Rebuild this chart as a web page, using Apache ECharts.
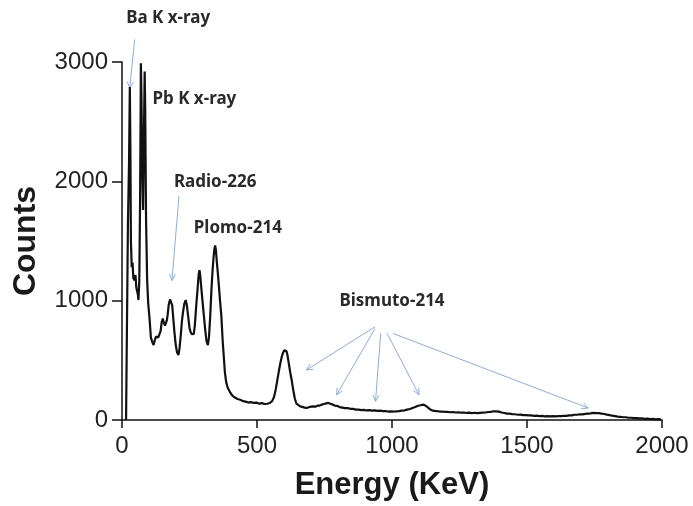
<!DOCTYPE html>
<html>
<head>
<meta charset="utf-8">
<script src="https://cdn.jsdelivr.net/npm/echarts@6/dist/echarts.min.js"></script>
<style>
    html, body { margin: 0; padding: 0; background: #fff; }
    #main { width: 693px; height: 506px; }
</style>
</head>
<body>
<div id="main"></div>
<script>
// energy (keV) of each channel
var energy = [15, 20, 22, 26, 29, 31, 33, 36, 39, 42, 46, 50, 53, 56, 59, 61, 64, 67, 70, 72,
    75, 78, 81, 84, 86, 89, 93, 97, 102, 107, 112, 117, 121, 126, 130, 134, 139, 143, 147, 151,
    155, 159, 163, 166, 169, 173, 178, 182, 186, 190, 194, 199, 204, 209, 213, 218, 222, 226, 231, 236,
    240, 245, 250, 254, 258, 262, 266, 270, 275, 280, 284, 287, 290, 294, 298, 303, 308, 313, 318, 322,
    327, 331, 335, 339, 342, 345, 348, 351, 355, 359, 363, 368, 373, 377, 381, 386, 392, 399, 408, 418,
    428, 438, 448, 458, 468, 478, 488, 498, 508, 518, 528, 538, 547, 556, 563, 569, 575, 581, 587, 592,
    597, 601, 605, 609, 613, 618, 623, 628, 634, 640, 646, 652, 660, 668, 676, 684, 692, 700, 708, 716,
    724, 732, 740, 748, 756, 764, 772, 780, 788, 796, 806, 816, 826, 836, 846, 856, 866, 876, 886, 896,
    906, 916, 926, 936, 946, 956, 966, 976, 986, 996, 1006, 1016, 1026, 1036, 1046, 1056, 1066, 1076, 1086, 1096,
    1106, 1114, 1122, 1130, 1138, 1146, 1156, 1166, 1176, 1186, 1196, 1206, 1216, 1226, 1236, 1246, 1256, 1266, 1276, 1286,
    1296, 1306, 1316, 1326, 1336, 1346, 1356, 1366, 1376, 1386, 1396, 1406, 1416, 1426, 1436, 1446, 1456, 1466, 1476, 1486,
    1496, 1506, 1516, 1526, 1536, 1546, 1556, 1566, 1576, 1586, 1596, 1606, 1616, 1626, 1636, 1646, 1656, 1666, 1676, 1686,
    1696, 1706, 1716, 1726, 1736, 1746, 1756, 1766, 1776, 1786, 1796, 1806, 1816, 1826, 1836, 1846, 1856, 1866, 1876, 1886,
    1896, 1906, 1916, 1926, 1936, 1946, 1956, 1966, 1976, 1986, 1996];

// counts for each channel
var counts = [0, 0, 1650, 2150, 2790, 2300, 1500, 1280, 1320, 1190, 1170, 1215, 1110, 1100, 1050, 1005, 1160, 1850, 2990, 2720,
    2100, 1760, 2350, 2920, 2600, 1700, 1180, 980, 850, 690, 655, 628, 665, 700, 712, 690, 683, 745, 820, 850,
    815, 790, 780, 835, 880, 965, 1010, 1020, 960, 850, 740, 630, 565, 545, 600, 720, 830, 905, 975, 1005,
    965, 870, 770, 738, 720, 712, 722, 800, 960, 1100, 1220, 1255, 1205, 1100, 1000, 880, 760, 662, 628, 690,
    880, 1080, 1240, 1360, 1430, 1462, 1420, 1330, 1230, 1120, 1000, 870, 660, 530, 400, 315, 268, 238, 206, 188,
    176, 170, 158, 154, 146, 150, 143, 146, 137, 141, 134, 136, 142, 158, 192, 252, 330, 410, 482, 532,
    566, 584, 592, 578, 542, 470, 400, 340, 255, 180, 138, 124, 114, 110, 104, 101, 107, 112, 114, 112,
    120, 121, 129, 134, 139, 143, 136, 129, 121, 119, 108, 104, 99, 99, 94, 93, 87, 87, 83, 85,
    80, 83, 78, 81, 76, 79, 74, 74, 71, 72, 71, 73, 74, 79, 81, 87, 92, 101, 109, 119,
    124, 129, 123, 111, 94, 83, 76, 75, 71, 71, 68, 68, 65, 67, 63, 64, 61, 63, 59, 62,
    58, 61, 57, 60, 62, 63, 67, 68, 73, 72, 70, 63, 59, 53, 53, 48, 48, 44, 45, 41,
    41, 38, 39, 35, 36, 33, 34, 31, 32, 30, 32, 30, 33, 32, 35, 35, 39, 39, 44, 44,
    48, 47, 51, 54, 56, 59, 58, 57, 53, 50, 45, 41, 36, 33, 28, 27, 23, 23, 19, 19,
    16, 16, 13, 13, 10, 11, 8, 9, 6, 7, 5];

var xTicks = [0, 500, 1000, 1500, 2000];
var yTicks = [0, 1000, 2000, 3000];

// peak labels: [text, keV, counts]
var labels = [
    ['Ba K x-ray', 171, 3369],
    ['Pb K x-ray', 268, 2692],
    ['Radio-226', 345, 1992],
    ['Plomo-214', 429, 1608],
    ['Bismuto-214', 1000, 1000]
];

// arrows: [fromKeV, fromCounts, toKeV, toCounts]
var arrows = [
    [47, 3189, 28.5, 2781],
    [211, 1877, 185, 1169],
    [937, 781, 683, 419],
    [937, 767, 795, 211],
    [958, 725, 939, 156],
    [982, 725, 1100, 211],
    [1004, 725, 1727, 100]
];

var spectrum = [];
for (var i = 0; i < energy.length; i++) {
    spectrum.push([energy[i], counts[i]]);
}

var myChart = echarts.init(document.getElementById('main'));

var axisFont = 'Liberation Sans, Arial, sans-serif';

var option = {
    animation: false,
    backgroundColor: '#fff',
    grid: { left: 122, right: 31, top: 62, bottom: 84 },
    xAxis: {
        type: 'value',
        min: xTicks[0],
        max: xTicks[xTicks.length - 1],
        interval: 500,
        name: 'Energy (KeV)',
        nameLocation: 'middle',
        nameGap: 50,
        nameTextStyle: { fontFamily: axisFont, fontSize: 31, fontWeight: 'bold', color: '#1a1a1a' },
        axisLine: { lineStyle: { color: '#111', width: 1.5 } },
        axisTick: { length: 8, lineStyle: { color: '#111', width: 1.5 } },
        axisLabel: {
            fontFamily: axisFont, fontSize: 24, color: '#222', margin: 14,
            formatter: function (v) { return String(v); }
        },
        splitLine: { show: false }
    },
    yAxis: {
        type: 'value',
        min: yTicks[0],
        max: yTicks[yTicks.length - 1],
        interval: 1000,
        name: 'Counts',
        nameLocation: 'middle',
        nameGap: 80,
        nameTextStyle: { fontFamily: axisFont, fontSize: 32, fontWeight: 'bold', color: '#1a1a1a' },
        axisLine: { show: true, lineStyle: { color: '#111', width: 1.5 } },
        axisTick: { show: true, length: 10, lineStyle: { color: '#111', width: 1.5 } },
        axisLabel: {
            fontFamily: axisFont, fontSize: 24, color: '#222', margin: 14,
            formatter: function (v) { return String(v); }
        },
        splitLine: { show: false }
    },
    series: [{
        type: 'line',
        data: spectrum,
        symbol: 'none',
        lineStyle: { color: '#111', width: 2.2 }
    }]
};

myChart.setOption(option);

// annotations drawn on top, placed from data coordinates
var graphics = [];
labels.forEach(function (l) {
    var p = myChart.convertToPixel({ gridIndex: 0 }, [l[1], l[2]]);
    graphics.push({
        type: 'text',
        x: p[0],
        y: p[1],
        style: {
            text: l[0],
            font: 'bold 17px "Noto Sans", sans-serif',
            fill: '#2a2a2a',
            align: 'center',
            verticalAlign: 'middle'
        }
    });
});
arrows.forEach(function (a) {
    var p1 = myChart.convertToPixel({ gridIndex: 0 }, [a[0], a[1]]);
    var p2 = myChart.convertToPixel({ gridIndex: 0 }, [a[2], a[3]]);
    var ang = Math.atan2(p2[1] - p1[1], p2[0] - p1[0]);
    var len = 7, spread = 0.45;
    graphics.push({
        type: 'line',
        shape: { x1: p1[0], y1: p1[1], x2: p2[0], y2: p2[1] },
        style: { stroke: '#8eaed6', lineWidth: 1 }
    });
    graphics.push({
        type: 'polyline',
        shape: {
            points: [
                [p2[0] - len * Math.cos(ang - spread), p2[1] - len * Math.sin(ang - spread)],
                [p2[0], p2[1]],
                [p2[0] - len * Math.cos(ang + spread), p2[1] - len * Math.sin(ang + spread)]
            ]
        },
        style: { stroke: '#8eaed6', lineWidth: 1, fill: null }
    });
});
myChart.setOption({ graphic: graphics });
</script>
</body>
</html>
